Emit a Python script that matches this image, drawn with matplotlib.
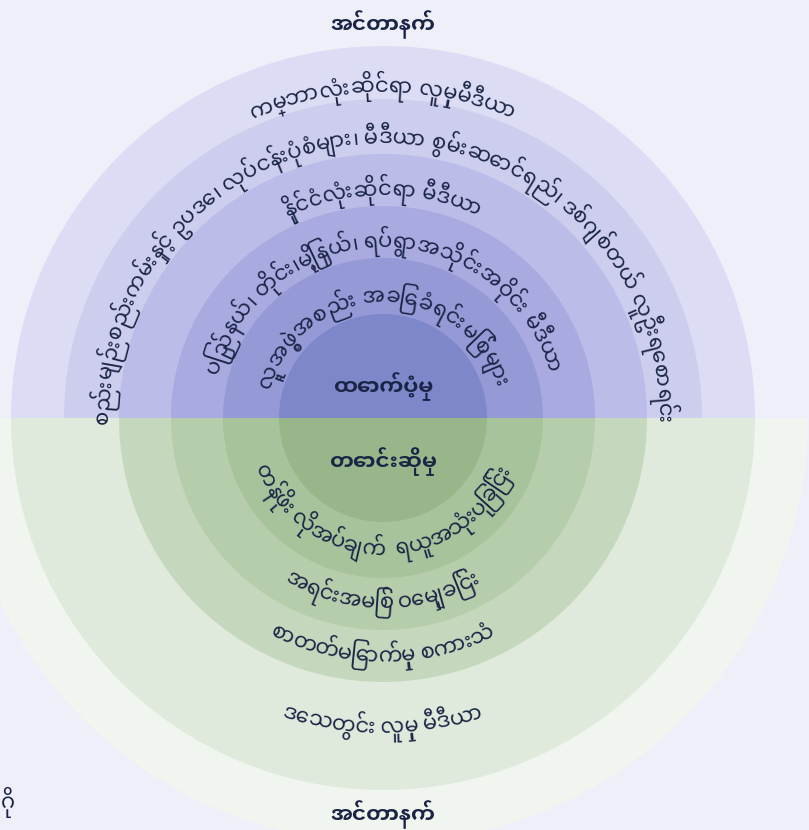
import glob
import unicodedata
import numpy as np
import matplotlib
matplotlib.use('Agg')
import matplotlib.pyplot as plt
from matplotlib.patches import Wedge
from matplotlib import font_manager as fm
from matplotlib.ft2font import FT2Font

# ---------------- data ----------------
top_title = "အင်တာနက်"
bottom_title = "အင်တာနက်"
supply_label = "ထောက်ပံ့မှု"
demand_label = "တောင်းဆိုမှု"
supply_layers = [
    "လူ့အဖွဲ့အစည်း အခြေခံရင်းမြစ်များ",
    "ပြည်နယ်၊ တိုင်း၊မြို့နယ်၊ ရပ်ရွာအသိုင်းအဝိုင်း မီဒီယာ",
    "နိုင်ငံလုံးဆိုင်ရာ မီဒီယာ",
    "စည်းမျဉ်းစည်းကမ်းနှင့် ဥပဒေ၊ လုပ်ငန်းပုံစံများ၊ မီဒီယာ စွမ်းဆောင်ရည်၊ ဒစ်ဂျစ်တယ် လူဦးရေစာရင်း",
    "ကမ္ဘာလုံးဆိုင်ရာ လူမှုမီဒီယာ",
]
demand_layers = [
    "တန်ဖိုး လိုအပ်ချက်  ရယူအသုံးပြုခြင်း",
    "အရင်းအမြစ် ဝေမျှခြင်း",
    "စာတတ်မြောက်မှု စကားသံ",
    "ဒေသတွင်း လူမှု မီဒီယာ",
]
edge_fragment = "ဂို"

# ---------------- layout / style ----------------
W, H = 809, 830
cx, cy = 383, 418
top_radii = [372, 319, 264, 212, 160, 104]
top_colors = ['#dcdcf4', '#cdcdee', '#bbbce8', '#a8aae0', '#9599d6', '#7f87cb']
bot_radii = [425, 372, 264, 212, 160, 104]
bot_colors = ['#f0f5ef', '#e0eadc', '#c5d8bd', '#b5cdab', '#a7c39b', '#98b68a']
top_baselines = [116, 171, 223, 275, 326]
bot_baselines = [137, 190, 244, 315]
bg = '#efeff9'
tc = '#1a2546'
body_px = 12.0
bold_body_px = 11.0


def pick(patterns):
    files = sorted(glob.glob('/usr/share/fonts/**/*.[ot]tf', recursive=True))
    for pat in patterns:
        for p in files:
            if pat in p.split('/')[-1]:
                return p
    for f in fm.fontManager.ttflist:
        try:
            if 0x1000 in FT2Font(f.fname).get_charmap():
                return f.fname
        except Exception:
            pass
    return None


reg_path = pick(['NotoSansMyanmar[', 'NotoSansMyanmar-Regular', 'NotoSansMyanmarUI-Regular'])
bold_path = pick(['NotoSansMyanmarUI-Bold', 'NotoSansMyanmar-Bold', 'NotoSansMyanmarUI-SemiBold'])


def size_for_body(path, target):
    f = FT2Font(path)
    f.set_size(100, 72)
    g = f.load_char(ord('က'))
    h = g.height / 64.0
    return target * 100.0 / h * 72.0 / 100.0


fs_reg = size_for_body(reg_path, body_px)
fs_bold = size_for_body(bold_path, bold_body_px)
fp_reg = fm.FontProperties(fname=reg_path, size=fs_reg)
fp_bold = fm.FontProperties(fname=bold_path, size=fs_bold)
ft_reg = FT2Font(reg_path)
ft_reg.set_size(fs_reg, 100)


def clusters(s):
    out = []
    prev_virama = False
    for ch in s:
        cat = unicodedata.category(ch)
        if out and (cat in ('Mn', 'Mc') or prev_virama) and ch != ' ':
            out[-1] += ch
        else:
            out.append(ch)
        prev_virama = (ch == '\u1039')
    return out


def curved(ax, text, r, top):
    cl = clusters(text)
    widths = [sum(ft_reg.load_char(ord(c)).linearHoriAdvance / 65536.0 for c in k) for k in cl]
    total = sum(widths)
    s = 0.0
    for k, wi in zip(cl, widths):
        sc = s + wi / 2.0 - total / 2.0
        s += wi
        if k.strip() == '':
            continue
        a = sc / r
        x = cx + r * np.sin(a)
        if top:
            y = cy - r * np.cos(a)
            rot = -np.degrees(a)
        else:
            y = cy + r * np.cos(a)
            rot = np.degrees(a)
        ax.text(x, y, k, fontproperties=fp_reg, rotation=rot, rotation_mode='anchor',
                ha='center', va='baseline', color=tc)


fig = plt.figure(figsize=(W / 100, H / 100), dpi=100, facecolor=bg)
ax = fig.add_axes([0, 0, 1, 1])
ax.set_xlim(0, W)
ax.set_ylim(H, 0)
ax.set_facecolor(bg)
ax.axis('off')

# supply half (top on screen -> angles 180..360 with inverted y)
for r, c in zip(top_radii, top_colors):
    ax.add_patch(Wedge((cx, cy), r, 180, 360, facecolor=c, edgecolor='none', lw=0))
# demand half
for r, c in zip(bot_radii, bot_colors):
    ax.add_patch(Wedge((cx, cy), r, 0, 180, facecolor=c, edgecolor='none', lw=0))

for txt, rb in zip(supply_layers, top_baselines):
    curved(ax, txt, rb, True)
for txt, rb in zip(demand_layers, bot_baselines):
    curved(ax, txt, rb, False)

ax.text(cx, 33, top_title, fontproperties=fp_bold, ha='center', va='baseline', color=tc)
ax.text(cx, 823, bottom_title, fontproperties=fp_bold, ha='center', va='baseline', color=tc)
ax.text(cx, 395, supply_label, fontproperties=fp_bold, ha='center', va='baseline', color=tc)
ax.text(cx, 470, demand_label, fontproperties=fp_bold, ha='center', va='baseline', color=tc)
ax.text(15, 808, edge_fragment, fontproperties=fp_reg, ha='right', va='baseline', color=tc)

fig.savefig('out.png', dpi=100, facecolor=bg)
